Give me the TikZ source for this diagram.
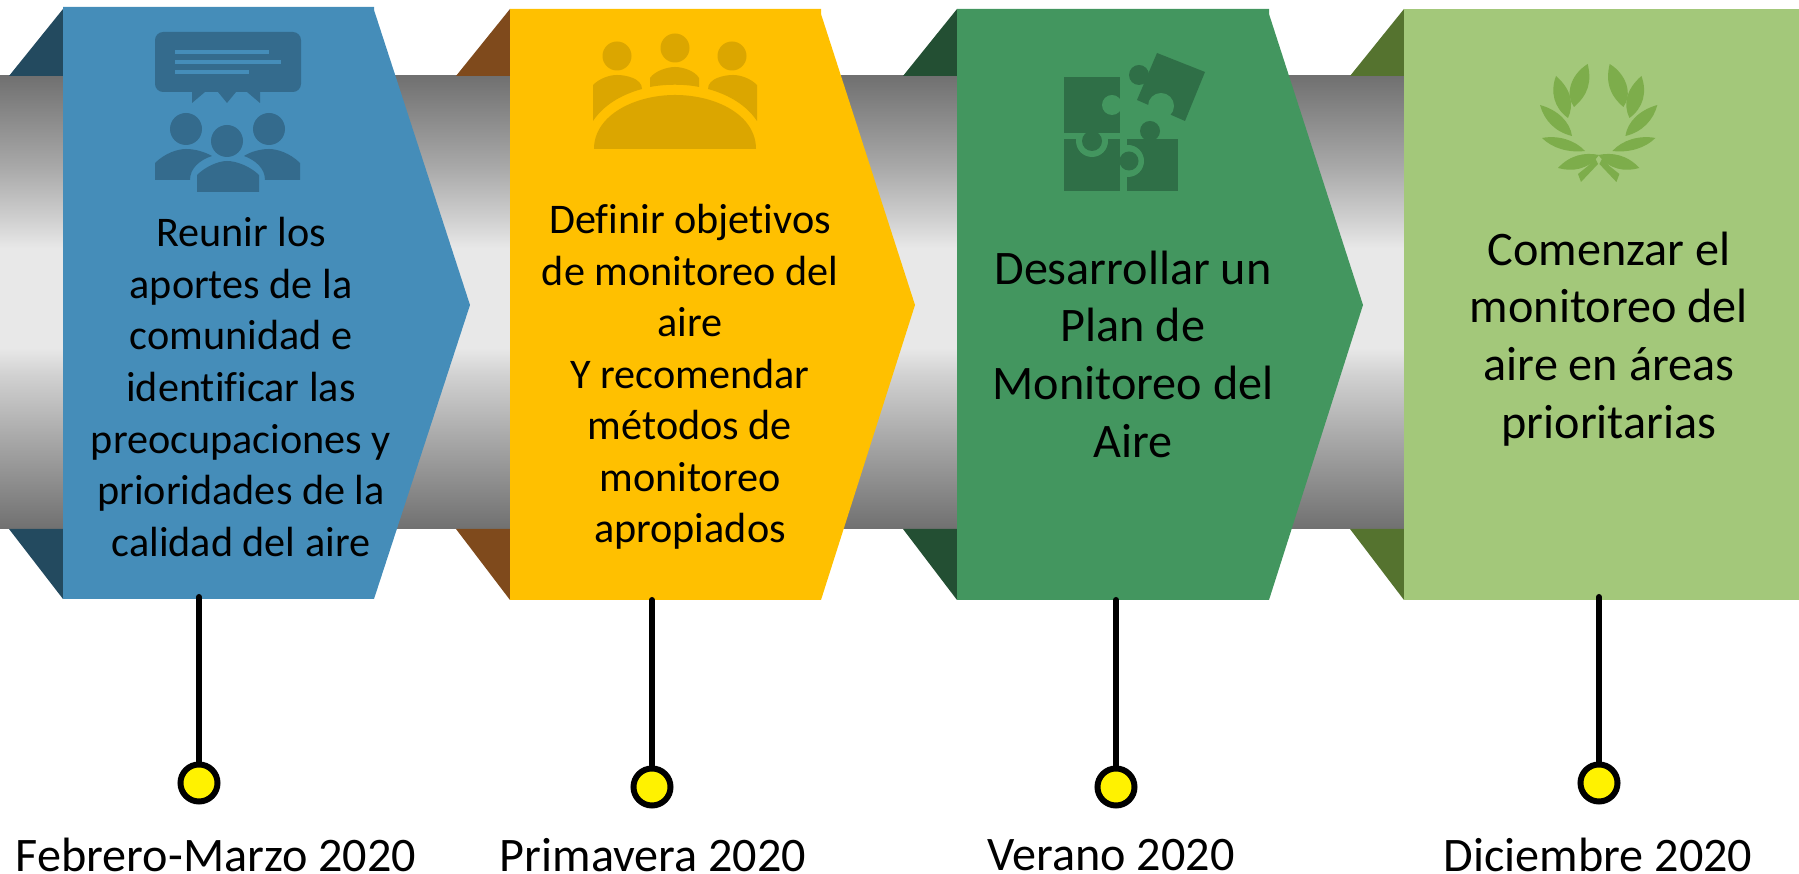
\documentclass[tikz,border=0pt]{standalone}
\usepackage{fontspec}
\usepackage{tikz}
\usepackage{xcolor}
\setmainfont{Carlito}[Ligatures=NoCommon]

\definecolor{blueBox}{HTML}{458DB9}
\definecolor{blueDark}{HTML}{346B8D}
\definecolor{blueFold}{HTML}{234A5F}
\definecolor{yellowBox}{HTML}{FFC000}
\definecolor{yellowDark}{HTML}{DBA600}
\definecolor{brownFold}{HTML}{7F4A1C}
\definecolor{greenBox}{HTML}{43965F}
\definecolor{greenDark}{HTML}{2F6F47}
\definecolor{greenFold}{HTML}{234F33}
\definecolor{limeBox}{HTML}{A3C87A}
\definecolor{limeDark}{HTML}{7DAD4B}
\definecolor{limeFold}{HTML}{55732F}

\pgfdeclareverticalshading{bandshade}{100bp}{
  color(0bp)=(black!56); color(25bp)=(black!56); color(35bp)=(black!34);
  color(42bp)=(black!18); color(45bp)=(black!9); color(56bp)=(black!9);
  color(59bp)=(black!18); color(65bp)=(black!34); color(75bp)=(black!56); color(100bp)=(black!56)}

\tikzset{
  smalltext/.style={align=center, font=\fontsize{12}{14.65}\selectfont},
  bigtext/.style={align=center, font=\fontsize{13.7}{16.4}\selectfont},
  datetext/.style={inner sep=0pt, font=\fontsize{13.7}{16}\selectfont},
  stem/.style={line width=1.7pt, line cap=round},
  dot/.style={circle, draw, fill=yellow, line width=1.7pt, minimum size=0.37cm, inner sep=0pt}
}

\begin{document}
\begin{tikzpicture}[x=0.01cm, y=-0.01cm]
  \useasboundingbox (0,0) rectangle (1799,874);

  % band
  \path[shading=bandshade] (0,76) rectangle (1410,529);

  % folds
  \fill[blueFold] (9,76) -- (63,9) -- (63,76) -- cycle (9,529) -- (63,599) -- (63,529) -- cycle;
  \fill[brownFold] (456,76) -- (510,9) -- (510,76) -- cycle (456,529) -- (510,600) -- (510,529) -- cycle;
  \fill[greenFold] (903,76) -- (957,9) -- (957,76) -- cycle (903,529) -- (957,600) -- (957,529) -- cycle;
  \fill[limeFold] (1350,76) -- (1404,9) -- (1404,76) -- cycle (1350,529) -- (1404,600) -- (1404,529) -- cycle;

  % boxes
  \fill[blueBox] (63,7) -- (374,7) -- (374,10) -- (470,305) -- (374,599) -- (63,599) -- cycle;
  \fill[yellowBox] (510,9) -- (821,9) -- (821,14) -- (915,305) -- (821,600) -- (510,600) -- cycle;
  \fill[greenBox] (957,9) -- (1269,9) -- (1269,14) -- (1363,305) -- (1269,600) -- (957,600) -- cycle;
  \fill[limeBox] (1404,9) rectangle (1799,600);

  % icon 1
  \fill[blueDark, rounded corners=2.3pt] (155,32) rectangle (301,92);
  \fill[blueDark] (192,90) -- (192,103) -- (205,92) -- (218,92) -- (227,103) -- (236,92) -- (247,92) -- (260,103) -- (260,90) -- cycle;
  \draw[blueBox, line width=1.1pt] (175,52) -- (269,52) (175,62) -- (281,62) (175,72) -- (249,72);
  \fill[blueDark] (186,129) circle (16) (269,129) circle (16) (227,141) circle (16);
  \fill[blueDark] (155,180) -- (155,163) .. controls (165,153) and (178,149) .. (186,149) .. controls (195,149) and (205,152) .. (212,156) .. controls (200,160) and (190,168) .. (190,180) -- cycle;
  \fill[blueDark] (300,180) -- (300,163) .. controls (290,153) and (277,149) .. (269,149) .. controls (260,149) and (250,152) .. (244,156) .. controls (255,160) and (265,168) .. (265,180) -- cycle;
  \fill[blueDark] (197,192) -- (197,175) .. controls (205,167) and (218,161) .. (227,161) .. controls (237,161) and (251,167) .. (259,175) -- (259,192) -- cycle;

  % icon 2
  \fill[yellowDark] (617,56) circle (14.5) (675,48) circle (14.5) (732,56) circle (14.5);
  \fill[yellowDark] (594,149) .. controls (594,115) and (635,95) .. (675,95) .. controls (716,95) and (756,115) .. (756,149) -- cycle;
  \fill[yellowDark] (593,121) -- (593,85) .. controls (600,78) and (610,75) .. (617,75) .. controls (625,75) and (642,78) .. (642,89) .. controls (620,95) and (603,106) .. (593,121) -- cycle;
  \fill[yellowDark] (757,121) -- (757,85) .. controls (750,78) and (740,75) .. (733,75) .. controls (725,75) and (708,78) .. (708,89) .. controls (730,95) and (747,106) .. (757,121) -- cycle;
  \fill[yellowDark] (650,87) -- (650,78) .. controls (655,71) and (667,67) .. (675,67) .. controls (683,67) and (695,71) .. (699,78) -- (699,87) .. controls (685,84) and (665,84) .. (650,87) -- cycle;

  % icon 3
  \fill[greenDark] (1127,139) rectangle (1178,191);
  \fill[greenBox] (1128,161) circle (16);
  \fill[greenDark] (1064,139) rectangle (1120,191);
  \fill[greenBox] (1092,141) circle (16);
  \fill[greenDark] (1064,77) rectangle (1120,133);
  \fill[greenBox] (1112,105) circle (10);
  \fill[greenDark] (1157,53) -- (1205,72) -- (1185,121) -- (1137,100) -- cycle;
  \fill[greenBox] (1161,106) circle (13);
  \fill[greenDark] (1092,141) circle (10) (1129,161) circle (9.5) (1150,131) circle (10) (1139,75) circle (10);

  % icon 4
  \foreach \sx/\dx in {1/0,-1/3197.4}{
    \begin{scope}[shift={(\dx,0)}, xscale=\sx]
      \fill[limeDark] (1587.7,64) .. controls (1570,75) and (1565,95) .. (1574,107) .. controls (1588,95) and (1592,82) .. (1587.7,64) -- cycle;
      \fill[limeDark] (1556,76) .. controls (1550,92) and (1554,108) .. (1568,118) .. controls (1574,105) and (1572,90) .. (1556,76) -- cycle;
      \fill[limeDark] (1540,105) .. controls (1544,120) and (1555,132) .. (1572,136) .. controls (1570,122) and (1558,110) .. (1540,105) -- cycle;
      \fill[limeDark] (1542,138) .. controls (1552,148) and (1568,153) .. (1585,151) .. controls (1575,140) and (1558,135) .. (1542,138) -- cycle;
      \fill[limeDark] (1558,168) .. controls (1572,172) and (1588,170) .. (1599,155) .. controls (1585,152) and (1570,155) .. (1558,168) -- cycle;
      \fill[limeDark] (1598,164) -- (1581,182) -- (1578,174) -- (1588,166) -- (1595,158) -- cycle;
    \end{scope}
  }

  % texts
  \node[smalltext] (t1) at (241,387) {Reunir los\\aportes de la\\comunidad e\\identificar las\\preocupaciones y\\prioridades de la\\calidad del aire};
  \node[smalltext] (t2) at (690,377) {Definir objetivos\\de monitoreo del\\aire\\Y recomendar\\métodos de\\monitoreo\\apropiados};
  \node[bigtext] (t3) at (1133,354) {Desarrollar un\\Plan de\\Monitoreo del\\Aire};
  \node[bigtext] (t4) at (1609,339) {Comenzar el\\monitoreo del\\aire en áreas\\prioritarias};

  % dots and dates
  \node[dot] (d1) at (199,783) {};
  \node[dot] (d2) at (652,787) {};
  \node[dot] (d3) at (1116,787) {};
  \node[dot] (d4) at (1599,783) {};
  \node[datetext] (f1) at (216,855) {Febrero-Marzo 2020};
  \node[datetext] (f2) at (653,855) {Primavera 2020};
  \node[datetext] (f3) at (1111,855) {Verano 2020};
  \node[datetext] (f4) at (1598,855) {Diciembre 2020};

  \coordinate (s1) at (199,597);
  \coordinate (s2) at (652,600);
  \coordinate (s3) at (1116,600);
  \coordinate (s4) at (1599,597);
  \draw[stem] (s1) -- (d1);
  \draw[stem] (s2) -- (d2);
  \draw[stem] (s3) -- (d3);
  \draw[stem] (s4) -- (d4);
\end{tikzpicture}
\end{document}
